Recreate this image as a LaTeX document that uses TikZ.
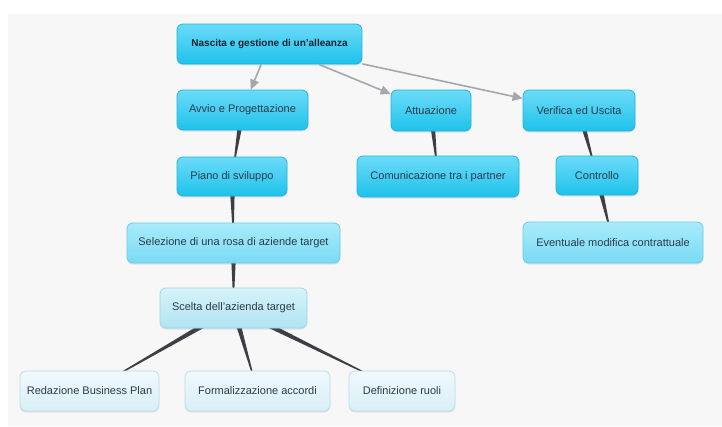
\documentclass[tikz,border=0pt]{standalone}
\usepackage{fontspec}
\setmainfont{Liberation Sans}
\usetikzlibrary{arrows.meta,calc,shadows}

\definecolor{bggray}{HTML}{F7F7F7}
\definecolor{txt}{HTML}{2B3A48}
\definecolor{roottxt}{HTML}{15232F}
\definecolor{arrowgray}{HTML}{A6A6AE}
\definecolor{wedgegray}{HTML}{3E3E46}
\definecolor{cyanT}{HTML}{6CDBF9}
\definecolor{cyanB}{HTML}{1EC2EB}
\definecolor{cyanD}{HTML}{22B4DA}
\definecolor{midT}{HTML}{A8ECFB}
\definecolor{midB}{HTML}{7ADAF3}
\definecolor{midD}{HTML}{6CCCE6}
\definecolor{paleT}{HTML}{D6F3FA}
\definecolor{paleB}{HTML}{B0E4F2}
\definecolor{paleD}{HTML}{9ED6E8}
\definecolor{leafT}{HTML}{F0F9FC}
\definecolor{leafB}{HTML}{D8EFF7}
\definecolor{leafD}{HTML}{BBDCE8}

\pgfdeclarelayer{canvas}
\pgfdeclarelayer{links}
\pgfsetlayers{canvas,links,main}

\tikzset{
  box/.style={rounded corners=6pt, inner sep=0pt, align=center,
    font=\fontsize{11}{13}\selectfont, text=txt, line width=0.8pt,
    drop shadow={shadow xshift=0pt, shadow yshift=-1.5pt, opacity=0.18}},
  cyanbox/.style={box, draw=cyanD, top color=cyanT, bottom color=cyanB},
  midbox/.style={box, draw=midD, top color=midT, bottom color=midB},
  palebox/.style={box, draw=paleD, top color=paleT, bottom color=paleB},
  leafbox/.style={box, draw=leafD, top color=leafT, bottom color=leafB},
  rootbox/.style={cyanbox, font=\bfseries\fontsize{10}{12}\selectfont, text=roottxt},
  arrowline/.style={draw=arrowgray, line width=1.6pt,
    -{Triangle[length=10pt,width=9pt]}},
}

% tapered link: broad at the parent, pointed at the child
\newcommand{\taperlink}[2]{%
  \begin{pgfonlayer}{links}
    \fill[wedgegray] ($(#1.center)!3pt!90:(#2.center)$) --
      ($(#1.center)!3pt!-90:(#2.center)$) -- (#2.center) -- cycle;
  \end{pgfonlayer}}

\begin{document}
\begin{tikzpicture}[x=1pt, y=-1pt]
  \useasboundingbox (0,0) rectangle (722,426);
  \begin{pgfonlayer}{canvas}
    \fill[white] (0,0) rectangle (722,426);
    \fill[bggray] (8,14) rectangle (722,426);
  \end{pgfonlayer}

  % top level
  \node[rootbox, minimum width=185pt, minimum height=40pt] (root) at (269.5,44) {Nascita e gestione di un'alleanza};

  % phases
  \node[cyanbox, minimum width=131pt, minimum height=40pt] (avvio) at (242.5,110) {Avvio e Progettazione};
  \node[cyanbox, minimum width=80pt, minimum height=41pt] (attua) at (431,110.5) {Attuazione};
  \node[cyanbox, minimum width=112pt, minimum height=41pt] (verif) at (579,110.5) {Verifica ed Uscita};

  % second level
  \node[cyanbox, minimum width=110pt, minimum height=39pt] (piano) at (232,176.5) {Piano di sviluppo};
  \node[cyanbox, minimum width=162pt, minimum height=41pt] (comun) at (438,176.5) {Comunicazione tra i partner};
  \node[cyanbox, minimum width=82pt, minimum height=39pt] (contr) at (597,175.5) {Controllo};

  % third level
  \node[midbox, minimum width=213pt, minimum height=40pt] (selez) at (233.5,243) {Selezione di una rosa di aziende target};
  \node[midbox, minimum width=180pt, minimum height=41pt] (event) at (613,242.5) {Eventuale modifica contrattuale};

  \node[palebox, minimum width=147pt, minimum height=40pt] (scelta) at (233.5,308) {Scelta dell'azienda target};

  % leaves
  \node[leafbox, minimum width=139pt, minimum height=40pt] (redaz) at (89.5,391) {Redazione Business Plan};
  \node[leafbox, minimum width=145pt, minimum height=40pt] (formal) at (257.5,391) {Formalizzazione accordi};
  \node[leafbox, minimum width=106pt, minimum height=40pt] (defin) at (402,391) {Definizione ruoli};

  % arrows from the root
  \draw[arrowline] (root) -- (avvio);
  \draw[arrowline] (root) -- (attua);
  \draw[arrowline] (root) -- (verif);

  % tapered links
  \taperlink{avvio}{piano}
  \taperlink{piano}{selez}
  \taperlink{selez}{scelta}
  \taperlink{scelta}{redaz}
  \taperlink{scelta}{formal}
  \taperlink{scelta}{defin}
  \taperlink{attua}{comun}
  \taperlink{verif}{contr}
  \taperlink{contr}{event}
\end{tikzpicture}
\end{document}
